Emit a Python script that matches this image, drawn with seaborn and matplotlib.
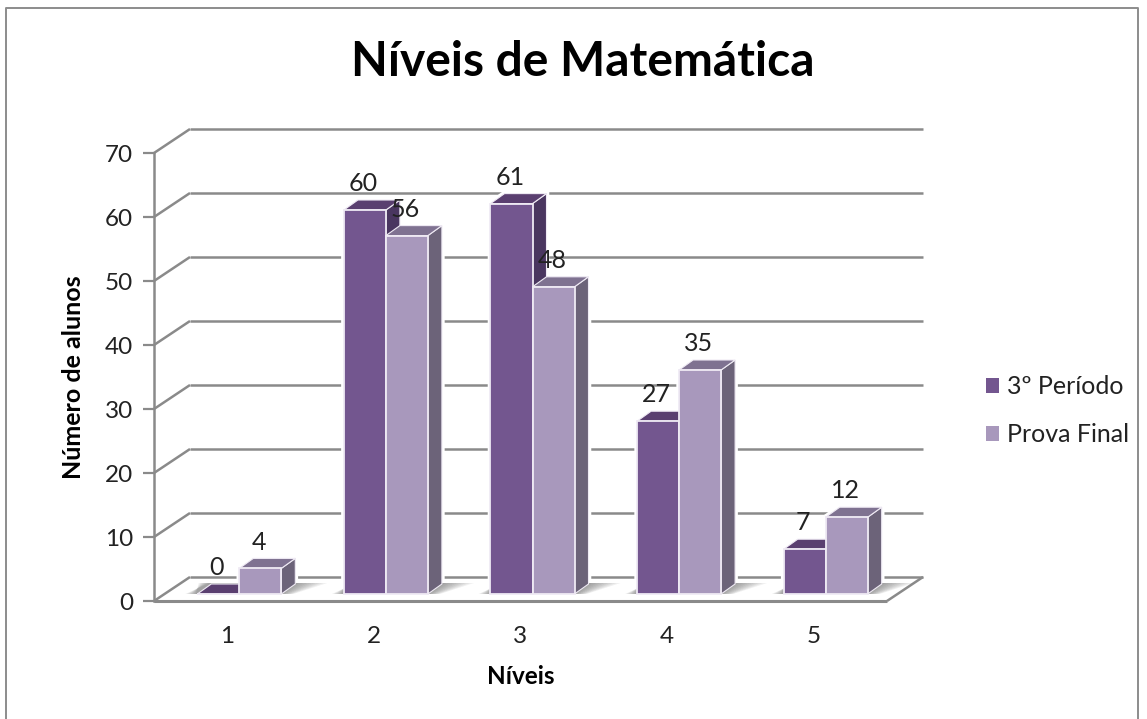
import matplotlib
matplotlib.use('Agg')

import pandas as pd
import matplotlib.pyplot as plt
import seaborn as sns
from matplotlib.patches import Polygon, Rectangle

niveis = ['1', '2', '3', '4', '5']
periodo = [0, 60, 61, 27, 7]
prova_final = [4, 56, 48, 35, 12]
series_names = ['3º Período', 'Prova Final']
y_ticks = [0, 10, 20, 30, 40, 50, 60, 70]

front_colors = ['#73568F', '#A898BC']
top_colors = ['#5A3F70', '#7F7291']
side_colors = ['#4A3660', '#6C6379']
GRAY = '#8A8A8A'

W, H = 1147, 719
AX_L, AX_R, AX_T, AX_B = 154, 887, 153, 601

sns.set_theme(style='white')
plt.rcParams['font.family'] = ['Lato', 'DejaVu Sans']

df = pd.DataFrame({
    'nivel': niveis * 2,
    'alunos': periodo + prova_final,
    'serie': [series_names[0]] * 5 + [series_names[1]] * 5,
})

fig = plt.figure(figsize=(W / 100, H / 100), dpi=100, facecolor='white')
ax = fig.add_axes([AX_L / W, 1 - AX_B / H, (AX_R - AX_L) / W, (AX_B - AX_T) / H])

sns.barplot(data=df, x='nivel', y='alunos', hue='serie', hue_order=series_names,
            palette=front_colors, width=0.573, gap=0, saturation=1, legend=False,
            ax=ax, zorder=10)
ax.set_xlim(-0.5, 4.5)
ax.set_ylim(0, 70)

# data units per pixel, the 3D look is built from these
px = 5 / (AX_R - AX_L)
py = 70 / (AX_B - AX_T)


def poly(points, color, zorder, **kw):
    ax.add_patch(Polygon(points, closed=True, facecolor=color, clip_on=False, zorder=zorder, **kw))


def line(xs, ys, lw=1.8, zorder=2):
    ax.plot(xs, ys, color=GRAY, lw=lw, clip_on=False, zorder=zorder, solid_capstyle='butt')


# back wall and the left wall
depth_x, depth_y = 36 * px, 24 * py
for v in y_ticks:
    line([-0.5 + depth_x, 4.5 + depth_x], [v + depth_y, v + depth_y])
    line([-0.5, -0.5 + depth_x], [v, v + depth_y])

# floor
line([-0.5, 4.5], [0, 0], lw=2.2, zorder=3)
line([4.5, 4.5 + depth_x], [0, depth_y])

# bars: shift the seaborn rectangles into the middle of the floor and add faces
shift_x, shift_y = 12 * px, 7 * py
side_x, side_y = 14 * px, 10 * py
z = 10
for s, cont in enumerate(ax.containers):
    for bar in cont:
        x0 = bar.get_x() + shift_x
        w = bar.get_width()
        h = bar.get_height()
        bar.set_x(x0)
        bar.set_y(shift_y)
        bar.set_clip_on(False)
        x1 = x0 + w
        y0, y1 = shift_y, shift_y + h

        # white glow cuts the gridlines near the bar
        poly([(x0, y0), (x1, y0), (x1 + side_x, y0 + side_y), (x1 + side_x, y1 + side_y),
              (x0 + side_x, y1 + side_y), (x0, y1)], 'white', 5, edgecolor='white', lw=4)
        # soft shadow on the floor
        for k in range(1, 9):
            poly([(x0 - k * 1.5 * px, y0), (x1 + k * 1.5 * px, y0),
                  (x1 + side_x + k * 4 * px, y0 + side_y * 1.1), (x0 + k * 1.5 * px, y0 + side_y * 1.1)],
                 '#444444', 6, alpha=0.08, lw=0)

        z += 1
        bar.set_zorder(z + 0.5)
        bar.set_edgecolor('#EFEAF4')
        bar.set_linewidth(1.3)
        poly([(x1, y0), (x1 + side_x, y0 + side_y), (x1 + side_x, y1 + side_y), (x1, y1)],
             side_colors[s], z, edgecolor='#EFEAF4', lw=0.8)
        poly([(x0, y1), (x1, y1), (x1 + side_x, y1 + side_y), (x0 + side_x, y1 + side_y)],
             top_colors[s], z, edgecolor='#EFEAF4', lw=0.8)

        ax.annotate(f'{h:.0f}', xy=(x0 + w / 2, y1), xytext=(-1, 19), textcoords='offset points',
                    ha='center', va='center', fontsize=18, color='#222222', zorder=200,
                    annotation_clip=False)

# axes
sns.despine(ax=ax, top=True, right=True, bottom=True)
ax.spines['left'].set_color(GRAY)
ax.spines['left'].set_linewidth(1.8)
ax.set_yticks(y_ticks)
ax.tick_params(axis='y', left=True, length=8, width=1.6, color=GRAY, labelsize=17.5,
               labelcolor='#222222', pad=7)
ax.tick_params(axis='x', bottom=False, labelsize=17.5, labelcolor='#222222', pad=12)
ax.set_xlabel('Níveis', fontsize=17.5, fontweight='bold', color='black', labelpad=13)
ax.set_ylabel('Número de alunos', fontsize=18, fontweight='bold', color='black', labelpad=14)

fig.text(583 / W, 1 - 62 / H, 'Níveis de Matemática', fontsize=34.5, fontweight='bold',
         color='black', ha='center', va='center')

# legend
handles = [Rectangle((0, 0), 1, 1, facecolor=c, edgecolor='none') for c in front_colors]
fig.legend(handles, series_names, loc='center left', bbox_to_anchor=(986 / W, 1 - 411 / H),
           frameon=False, fontsize=18, handlelength=0.52, handleheight=0.52,
           handletextpad=0.32, labelspacing=1.0, labelcolor='#222222', borderpad=0,
           borderaxespad=0)

# outer frame of the pasted chart, cut at the bottom
fig.add_artist(plt.Line2D([6 / W, 6 / W, 1138 / W, 1138 / W], [0, 1 - 8 / H, 1 - 8 / H, 0],
                          color='#8C8C8C', lw=1.4))

plt.savefig('out.png', dpi=100)
plt.close()
